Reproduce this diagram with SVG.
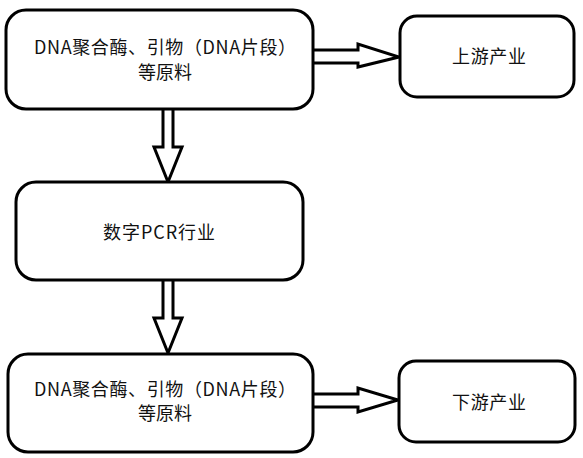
<svg xmlns="http://www.w3.org/2000/svg" width="583" height="458" viewBox="0 0 583 458">
<style>
.box{fill:#fff;stroke:#000;stroke-width:3}
.arr{fill:#fff;stroke:#000;stroke-width:3;stroke-linejoin:miter}
text{font-family:"Noto Sans CJK SC","Noto Sans",sans-serif;font-size:18px;fill:#111;text-anchor:middle}
</style>
<rect width="583" height="458" fill="#fff"/>
<g id="connectors">
<path class="arr" d="M163,109 L163,147 L154,147 L168,182 L182,147 L173,147 L173,109"/>
<path class="arr" d="M163,280 L163,318 L154,318 L168,353 L182,318 L173,318 L173,280"/>
<path class="arr" d="M313,50 L358,50 L358,44 L399,57 L358,67 L358,63 L313,63"/>
<path class="arr" d="M313,394 L358,394 L358,388 L398,400 L358,412 L358,407 L313,407"/>
</g>
<g id="node-raw-top">
<rect class="box" x="6" y="10" width="307" height="99" rx="20"/>
<text x="165" y="54" textLength="262" lengthAdjust="spacing">DNA聚合酶、引物（DNA片段）</text>
<text x="165" y="79">等原料</text>
</g>
<g id="node-upstream">
<rect class="box" x="400" y="16" width="174" height="81" rx="17"/>
<text x="489" y="63" textLength="74" lengthAdjust="spacing">上游产业</text>
</g>
<g id="node-dpcr">
<rect class="box" x="16" y="182" width="287" height="98" rx="20"/>
<text x="159" y="239" textLength="112" lengthAdjust="spacing">数字PCR行业</text>
</g>
<g id="node-raw-bottom">
<rect class="box" x="8" y="354" width="305" height="98" rx="20"/>
<text x="165" y="396" textLength="262" lengthAdjust="spacing">DNA聚合酶、引物（DNA片段）</text>
<text x="165" y="420">等原料</text>
</g>
<g id="node-downstream">
<rect class="box" x="399" y="361" width="176" height="81" rx="17"/>
<text x="489" y="409" textLength="74" lengthAdjust="spacing">下游产业</text>
</g>
</svg>
